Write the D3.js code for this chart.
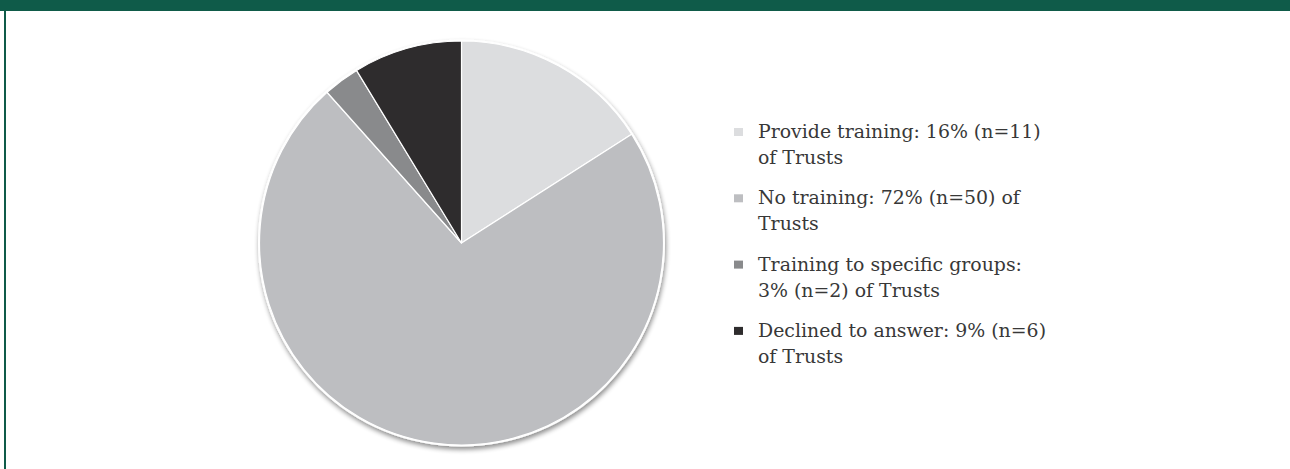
<!DOCTYPE html>
<html>
<head>
<meta charset="utf-8">
<script src="https://cdn.jsdelivr.net/npm/d3@7"></script>
<style>
  html, body { margin: 0; padding: 0; background: #fff; }
  svg { display: block; }
</style>
</head>
<body>
<svg id="chart" width="1290" height="469"></svg>
<script>
// ---- data ----
const categories = ["Provide training", "No training", "Training to specific groups", "Declined to answer"];
const counts = [11, 50, 2, 6];
const percents = [16, 72, 3, 9];
const legendLines = [
  ["Provide training: 16% (n=11)", "of Trusts"],
  ["No training: 72% (n=50) of", "Trusts"],
  ["Training to specific groups:", "3% (n=2) of Trusts"],
  ["Declined to answer: 9% (n=6)", "of Trusts"]
];
const colors = ["#dcdddf", "#bdbec1", "#898a8c", "#2e2c2d"];

// ---- layout ----
const W = 1290, H = 469;
const svg = d3.select("#chart");

// frame
svg.append("rect").attr("x", 0).attr("y", 0).attr("width", W).attr("height", 11).attr("fill", "#0f5b49");
svg.append("rect").attr("x", 4).attr("y", 0).attr("width", 2).attr("height", H).attr("fill", "#0f5b49");

// shadow filter
const defs = svg.append("defs");
const f = defs.append("filter").attr("id", "shadow").attr("x", "-20%").attr("y", "-20%").attr("width", "140%").attr("height", "140%");
f.append("feGaussianBlur").attr("in", "SourceAlpha").attr("stdDeviation", 2.5).attr("result", "blur");
f.append("feOffset").attr("in", "blur").attr("dx", 1).attr("dy", 3).attr("result", "off");
f.append("feComponentTransfer").attr("in", "off").attr("result", "sh")
  .append("feFuncA").attr("type", "linear").attr("slope", 0.45);
const merge = f.append("feMerge");
merge.append("feMergeNode").attr("in", "sh");
merge.append("feMergeNode").attr("in", "SourceGraphic");

const cx = 461.5, cy = 243, r = 202;
const data = categories.map((c, i) => ({ cat: c, value: counts[i], color: colors[i], lines: legendLines[i] }));
const pie = d3.pie().sort(null).value(d => d.value);
const arc = d3.arc().innerRadius(0).outerRadius(r);

const g = svg.append("g").attr("transform", `translate(${cx},${cy})`);
g.append("circle").attr("r", r + 1.5).attr("fill", "#fff").attr("filter", "url(#shadow)");
g.selectAll("path.slice").data(pie(data)).join("path")
  .attr("class", "slice")
  .attr("d", arc)
  .attr("fill", d => d.data.color)
  .attr("stroke", "#fff")
  .attr("stroke-width", 1.2)
  .attr("stroke-linejoin", "round");

// legend
const lx = 734, tx = 758, y0 = 138, pitch = 66.3, lineH = 26;
const leg = svg.append("g").attr("font-family", "'DejaVu Serif', serif")
  .attr("font-size", 20).attr("fill", "#383838");
data.forEach((d, i) => {
  const by = y0 + i * pitch;
  leg.append("rect").attr("x", lx).attr("y", by - 10).attr("width", 9).attr("height", 8).attr("fill", d.color);
  const t = leg.append("text").attr("x", tx).attr("y", by);
  d.lines.forEach((ln, j) => {
    t.append("tspan").attr("x", tx).attr("y", by + j * lineH).text(ln);
  });
});
// fit font size so the reference line "No training: 72% (n=50) of" spans ~262px
const probe = leg.selectAll("tspan").filter(function() { return this.textContent === legendLines[1][0]; }).node();
if (probe) {
  const w = probe.getComputedTextLength();
  if (w > 0) leg.attr("font-size", (20 * 262 / w).toFixed(2));
}
</script>
</body>
</html>
